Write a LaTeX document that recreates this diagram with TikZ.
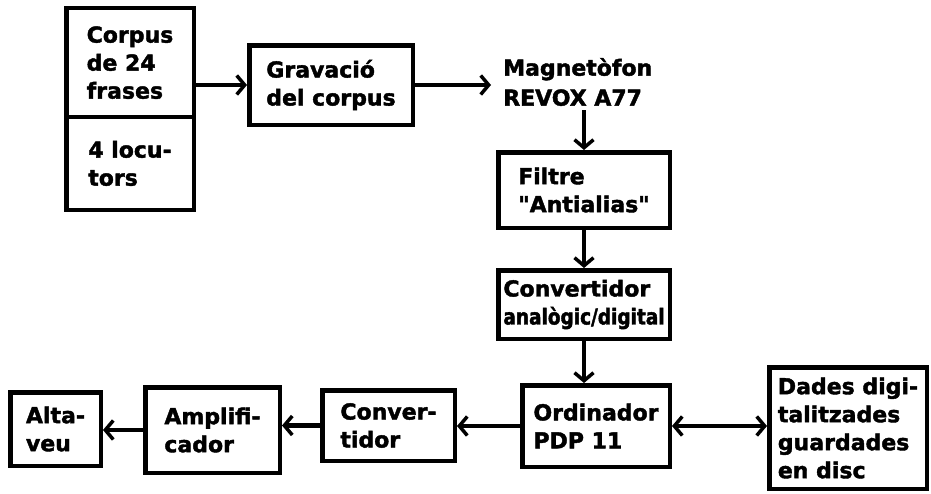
\documentclass[tikz,border=0pt]{standalone}
\usepackage{fontspec}
\setmainfont{DejaVu Sans}[Ligatures=TeXOff, BoldFeatures={FakeBold=1.8}]
\usetikzlibrary{arrows.meta}
\tikzset{
  box/.style={draw, line width=4.5pt, rectangle, align=left, inner sep=4pt,
              font=\fontsize{22}{28}\selectfont\bfseries},
  plain/.style={align=left, inner xsep=12pt, inner ysep=4pt,
              font=\fontsize{22}{30}\selectfont\bfseries},
  tipb/.tip={Straight Barb[length=8pt,width=19pt,line width=3.5pt]},
  arr/.style={line width=4.5pt, -tipb},
  darr/.style={line width=4.5pt, tipb-tipb}
}
\begin{document}
\begin{tikzpicture}[x=1pt,y=-1pt]
\useasboundingbox[fill=white] (0,0) rectangle (931,493);
% boxes
\node[box, minimum width=127.5pt, minimum height=108.75pt] (corpusA) at (130,62.6) {Corpus\\de 24\\frases};
\node[box, minimum width=127.5pt, minimum height=92.75pt] (corpusB) at (130,163.4) {4 locu-\\tors};
\node[box, minimum width=163.5pt, minimum height=79.5pt] (grav) at (331,85) {Gravació\\del corpus};
\node[plain, anchor=west] (magneto) at (491,82) {Magnetòfon\\REVOX A77};
\node[box, minimum width=171.5pt, minimum height=75.5pt] (filtre) at (584,190) {Filtre\\"Antialias"};
\node[box, minimum width=171.5pt, minimum height=68.5pt] (convad) at (584,304.5) {Convertidor\\{\addfontfeature{FakeStretch=0.84}analògic/digital}};
\node[box, minimum width=147.5pt, minimum height=81.5pt] (ordin) at (596,426) {Ordinador\\PDP 11};
\node[box, minimum width=157.5pt, minimum height=121.5pt] (dades) at (848,428) {Dades digi-\\talitzades\\guardades\\en disc};
\node[box, minimum width=132.5pt, minimum height=70.5pt] (conv) at (388.5,425.5) {Conver-\\tidor};
\node[box, minimum width=134.5pt, minimum height=85.5pt] (ampli) at (212.5,430) {Amplifi-\\cador};
\node[box, minimum width=90.5pt, minimum height=73.5pt] (alta) at (55.5,429) {Alta-\\veu};
% connectors
\draw[arr] (corpusA.east |- grav.west) -- (grav.west);
\draw[arr] (grav.east) -- (grav.east -| magneto.west);
\draw[arr] (magneto.south -| filtre.north) -- (filtre.north);
\draw[arr] (filtre.south) -- (convad.north);
\draw[arr] (convad.south) -- (convad.south |- ordin.north);
\draw[arr] (ordin.west) -- (ordin.west -| conv.east);
\draw[arr] (conv.west) -- (conv.west -| ampli.east);
\draw[arr] (ampli.west) -- (ampli.west -| alta.east);
\draw[darr] (ordin.east) -- (ordin.east -| dades.west);
\end{tikzpicture}
\end{document}
